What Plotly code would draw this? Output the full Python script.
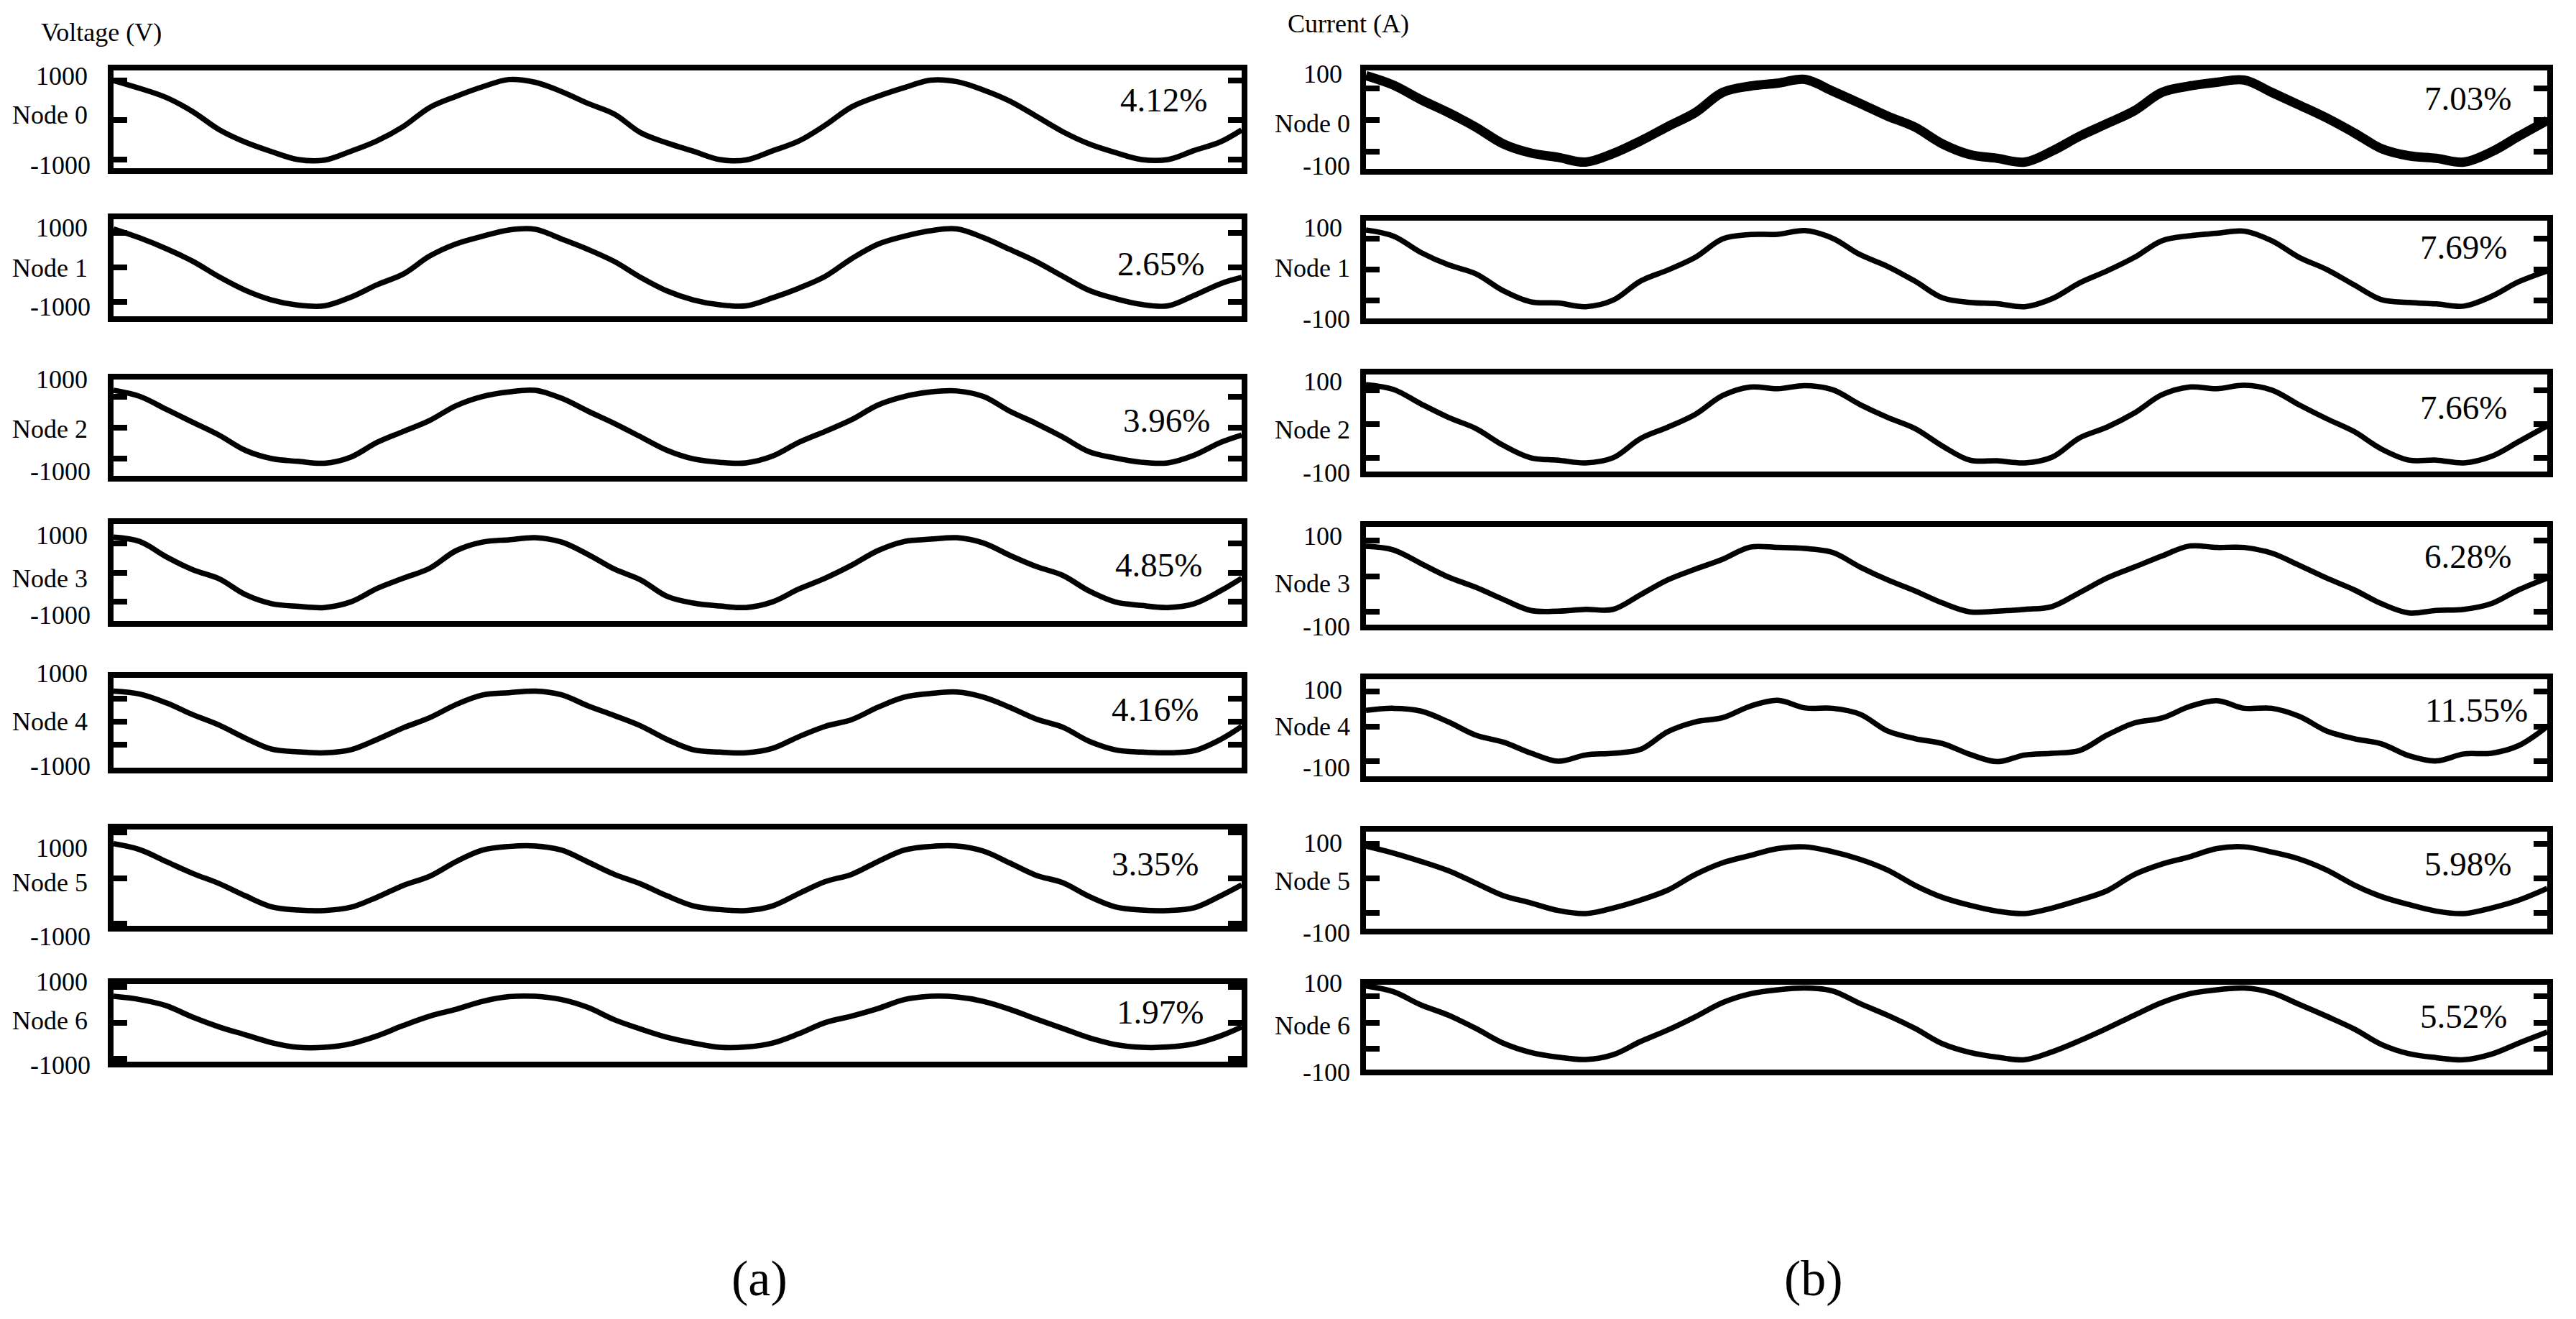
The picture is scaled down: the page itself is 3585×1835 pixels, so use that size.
# %%
import plotly.graph_objects as go

W, H = 3585, 1835
OFF = 8  # default page margin of the html body
WF, HF = W - 2 * OFF, H - 2 * OFF

# time grid (ms), same for every node
t_grid = [0, 1.25, 2.5, 3.75, 5, 6.25, 7.5, 8.75, 10, 11.25, 12.5, 13.75, 15, 16.25, 17.5, 18.75,
          20, 21.25, 22.5, 23.75, 25, 26.25, 27.5, 28.75, 30, 31.25, 32.5, 33.75, 35, 36.25, 37.5, 38.75,
          40, 41.25, 42.5, 43.75, 45, 46.25, 47.5, 48.75, 50, 51.25, 52.5]
t_v = t_grid + [53.5]
t_i = t_grid + [53.8]

nodes = ["Node 0", "Node 1", "Node 2", "Node 3", "Node 4", "Node 5", "Node 6"]

# voltage (V)
v_node0 = [1000, 800, 570, 215, -240, -560, -800, -1000, -1015, -790, -525, -160, 320, 600, 840, 1025,
           955, 720, 420, 150, -320, -580, -790, -1000, -1010, -780, -530, -130, 330, 600, 820, 1010,
           970, 760, 480, 100, -290, -600, -820, -1000, -1000, -770, -550, -250]
v_node1 = [1110, 850, 540, 180, -270, -660, -940, -1090, -1110, -860, -500, -190, 330, 680, 900, 1080,
           1100, 820, 520, 170, -290, -680, -940, -1080, -1110, -880, -600, -260, 250, 670, 900, 1060,
           1110, 860, 520, 170, -250, -660, -900, -1070, -1110, -810, -470, -290]
v_node2 = [1220, 1020, 600, 180, -240, -740, -1010, -1100, -1160, -960, -480, -120, 240, 720, 1020, 1170,
           1220, 960, 540, 140, -300, -740, -1020, -1130, -1150, -930, -480, -120, 260, 740, 1020, 1170,
           1200, 1020, 540, 140, -300, -780, -990, -1130, -1150, -900, -480, -240]
v_node3 = [1210, 1060, 540, 100, -210, -750, -1060, -1150, -1190, -1000, -540, -190, 150, 750, 1040, 1120,
           1190, 1040, 620, 120, -250, -810, -1040, -1140, -1190, -1000, -560, -190, 250, 750, 1060, 1140,
           1190, 1010, 590, 210, -90, -620, -1000, -1120, -1190, -1060, -620, -190]
v_node4 = [1340, 1210, 830, 320, -130, -700, -1180, -1300, -1340, -1210, -760, -250, 190, 760, 1170, 1270,
           1340, 1180, 700, 280, -170, -760, -1210, -1310, -1340, -1150, -640, -190, 100, 640, 1080, 1240,
           1300, 1080, 640, 130, -220, -830, -1210, -1310, -1340, -1250, -760, -190]
v_node5 = [750, 620, 360, 100, -120, -390, -630, -700, -710, -640, -420, -160, 40, 360, 610, 690,
           700, 610, 350, 80, -130, -390, -610, -690, -710, -610, -340, -80, 80, 360, 610, 690,
           700, 590, 330, 60, -100, -400, -630, -700, -710, -650, -390, -150]
v_node6 = [730, 640, 470, 150, -120, -340, -560, -690, -690, -590, -370, -80, 180, 370, 590, 720,
           730, 640, 420, 80, -180, -410, -570, -690, -680, -570, -310, 0, 180, 390, 640, 730,
           710, 590, 370, 100, -160, -420, -610, -690, -680, -590, -370, -120]

# current (A)
i_node0 = [140, 110, 64, 23, -23, -76, -105, -119, -134, -107, -67, -21, 23, 87, 107, 116,
           128, 91, 52, 12, -23, -76, -110, -122, -134, -99, -52, -12, 29, 87, 107, 119,
           126, 87, 47, 6, -41, -91, -114, -122, -134, -102, -52, -2]
i_node1 = [128, 108, 55, 15, -14, -69, -105, -109, -121, -100, -38, -2, 39, 99, 113, 114,
           126, 101, 48, 10, -38, -92, -107, -111, -121, -95, -44, -5, 39, 93, 109, 117,
           124, 93, 39, 0, -50, -98, -107, -112, -119, -88, -40, -5]
i_node2 = [117, 103, 60, 20, -13, -63, -100, -107, -115, -100, -43, -9, 29, 85, 110, 105,
           114, 102, 58, 20, -13, -65, -107, -109, -115, -98, -41, -9, 33, 87, 110, 105,
           115, 101, 57, 16, -22, -74, -107, -107, -115, -96, -52, -5]
i_node3 = [84, 74, 36, -2, -31, -65, -96, -98, -93, -93, -52, -10, 20, 48, 82, 81,
           78, 67, 26, -10, -41, -75, -100, -98, -93, -85, -46, -5, 26, 57, 85, 81,
           81, 65, 31, -5, -38, -77, -103, -96, -93, -77, -38, -5]
i_node4 = [46, 52, 44, 13, -25, -45, -76, -100, -82, -77, -66, -15, 13, 25, 58, 75,
           53, 52, 35, -13, -35, -49, -80, -101, -82, -77, -69, -25, 10, 24, 57, 74,
           52, 52, 29, -13, -35, -50, -84, -99, -79, -77, -55, 0]
i_node5 = [93, 73, 49, 22, -14, -50, -71, -93, -102, -86, -63, -34, 11, 45, 66, 86,
           91, 77, 55, 24, -20, -55, -78, -95, -102, -86, -63, -36, 11, 41, 62, 86,
           91, 76, 56, 24, -19, -53, -76, -95, -102, -86, -63, -29]
i_node6 = [139, 117, 67, 28, -22, -78, -113, -131, -140, -122, -72, -28, 22, 76, 109, 124,
           131, 120, 72, 28, -22, -80, -113, -131, -141, -111, -69, -22, 28, 76, 109, 124,
           131, 113, 69, 24, -24, -83, -118, -133, -141, -120, -78, -36]

v_thd = ["4.12%", "2.65%", "3.96%", "4.85%", "4.16%", "3.35%", "1.97%"]
i_thd = ["7.03%", "7.69%", "7.66%", "6.28%", "11.55%", "5.98%", "5.52%"]

v_series = [v_node0, v_node1, v_node2, v_node3, v_node4, v_node5, v_node6]
i_series = [i_node0, i_node1, i_node2, i_node3, i_node4, i_node5, i_node6]


# %%
# page geometry (pixels): box top, box bottom, zero tick, pixels per tick step
v_boxes = [(94, 238, 167, 55), (301, 444, 372, 48.2), (524, 666, 595, 42.6), (725, 868, 796.6, 40.8),
           (939, 1072, 1004.4, 32), (1150, 1292, 1221.5, 63.6), (1365, 1481, 1422.6, 50)]
i_boxes = [(94, 239, 166.7, 43.9), (303, 447, 374.8, 42.9), (517, 660, 590, 46.9), (729, 873, 801.7, 49.5),
           (941, 1084, 1010.6, 48.5), (1153, 1296, 1221.9, 48.1), (1366, 1492, 1422.6, 36.7)]

v_lab_y = [(106, 160, 230), (317, 373, 427), (528, 597, 656), (745, 805, 856),
           (937, 1004, 1066), (1180, 1228, 1303), (1366, 1420, 1482)]
i_lab_y = [(103, 172, 231), (317, 373, 444), (531, 598, 658), (746, 812, 872),
           (960, 1011, 1068), (1173, 1226, 1298), (1368, 1427, 1492)]

v_thd_pos = [(1682, 139), (1678, 367), (1686, 585), (1675, 786), (1670, 987), (1670, 1202), (1677, 1408)]
i_thd_pos = [(3497, 137), (3491, 344), (3491, 567), (3497, 774), (3520, 988), (3497, 1202), (3491, 1414)]

serif = "Liberation Serif, Times New Roman, serif"
LW = 8


def fx(x):
    return (x - OFF) / WF


def fy(y):
    return 1 - (y - OFF) / HF


fig = go.Figure()
layout = dict(width=WF, height=HF, margin=dict(l=0, r=0, t=0, b=0),
              plot_bgcolor="white", paper_bgcolor="white", showlegend=False)
annotations = []


def note(text, x, y, size, xanchor="right"):
    annotations.append(dict(text=text, x=fx(x), y=fy(y), xref="paper", yref="paper",
                            xanchor=xanchor, yanchor="middle", showarrow=False,
                            font=dict(family=serif, size=size, color="black")))


columns = [
    dict(t=t_v, series=v_series, boxes=v_boxes, x0=154, x1=1732, tmax=53.5, step=1000,
         labels=("1000", "-1000"), lab_y=v_lab_y, lab_x=(124, 124, 128), thd=v_thd, thd_pos=v_thd_pos),
    dict(t=t_i, series=i_series, boxes=i_boxes, x0=1897, x1=3549, tmax=53.8, step=100,
         labels=("100", "-100"), lab_y=i_lab_y, lab_x=(1870, 1881, 1881), thd=i_thd, thd_pos=i_thd_pos),
]

n = 0
for ci, col in enumerate(columns):
    for k in range(7):
        n += 1
        xa = "x" if n == 1 else f"x{n}"
        ya = "y" if n == 1 else f"y{n}"
        top, bottom, zero, upx = col["boxes"][k]
        step = col["step"]
        ylo = -(bottom - LW / 2 - zero) / upx * step
        yhi = (zero - top - LW / 2) / upx * step
        width = 13 if (ci == 1 and k == 0) else 7.5

        fig.add_trace(go.Scatter(x=col["t"], y=col["series"][k], mode="lines",
                                 line=dict(color="black", width=width, shape="spline"),
                                 xaxis=xa, yaxis=ya, hoverinfo="skip"))

        layout["xaxis" if n == 1 else f"xaxis{n}"] = dict(
            domain=[fx(col["x0"] + LW / 2), fx(col["x1"] - LW / 2)],
            range=[0, col["tmax"]], anchor=ya,
            showline=True, linecolor="black", linewidth=LW, mirror=True,
            ticks="", showticklabels=False, showgrid=False, zeroline=False)
        layout["yaxis" if n == 1 else f"yaxis{n}"] = dict(
            domain=[fy(bottom - LW / 2), fy(top + LW / 2)],
            range=[ylo, yhi], anchor=xa,
            showline=True, linecolor="black", linewidth=LW, mirror="ticks",
            tickvals=[-step, 0, step], ticks="inside", ticklen=19, tickwidth=LW, tickcolor="black",
            showticklabels=False, showgrid=False, zeroline=False)

        y_hi, y_node, y_lo = col["lab_y"][k]
        x_hi, x_node, x_lo = col["lab_x"]
        note(col["labels"][0], x_hi, y_hi, 36)
        note(nodes[k], x_node, y_node, 36)
        note(col["labels"][1], x_lo, y_lo, 36)
        tx, ty = col["thd_pos"][k]
        note(col["thd"][k], tx, ty, 47)

note("Voltage (V)", 55, 45, 36, xanchor="left")
note("Current (A)", 1790, 33, 36, xanchor="left")
note("(a)", 1057, 1778, 70, xanchor="center")
note("(b)", 2524, 1778, 70, xanchor="center")

layout["annotations"] = annotations
fig.update_layout(**layout)

fig.write_html("out.html")
